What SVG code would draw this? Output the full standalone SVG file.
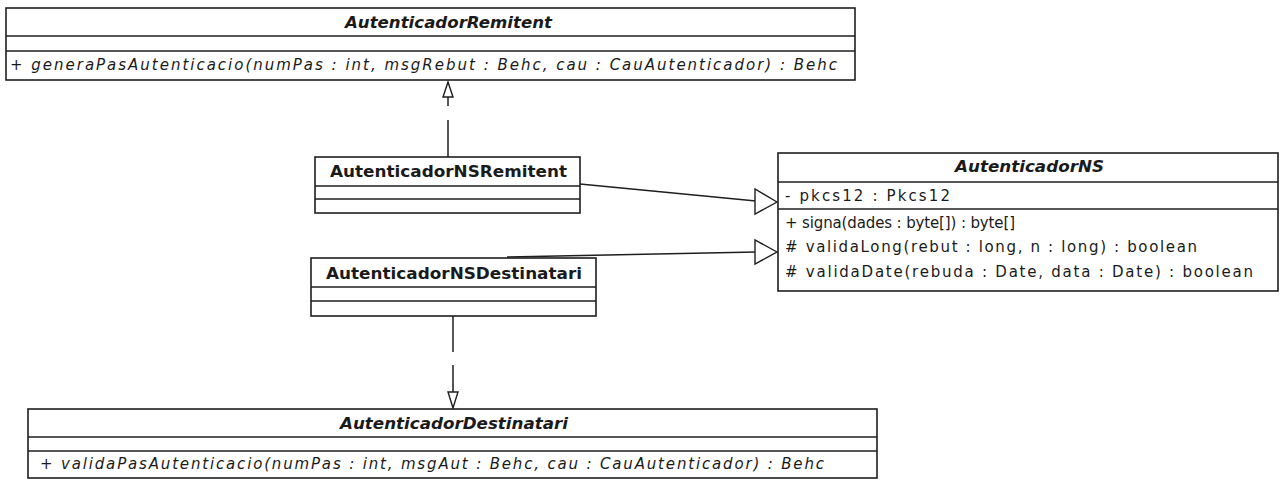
<svg xmlns="http://www.w3.org/2000/svg" width="1281" height="480" viewBox="0 0 1281 480">
  <style>
    .box { fill: #ffffff; stroke: #1e1e1e; stroke-width: 1.6; }
    .div { stroke: #1e1e1e; stroke-width: 1.6; }
    .t { font-family: "DejaVu Sans", "Liberation Sans", sans-serif; font-size: 15px; fill: #1a1a1a; }
    .abs { font-weight: bold; font-style: italic; }
    .cls { font-weight: bold; }
    .op { font-style: italic; }
    .edge { fill: none; stroke: #1e1e1e; stroke-width: 1.5; }
    .head { fill: #ffffff; stroke: #1e1e1e; stroke-width: 1.4; }
  </style>
  <rect width="1281" height="480" fill="#ffffff"/>

  <!-- abstract class: AutenticadorRemitent -->
  <g id="AutenticadorRemitent">
    <rect class="box" x="6" y="8" width="849" height="72"/>
    <line class="div" x1="6" y1="36" x2="855" y2="36"/>
    <line class="div" x1="6" y1="51" x2="855" y2="51"/>
    <text class="t abs" x="345" y="28" textLength="207" lengthAdjust="spacingAndGlyphs">AutenticadorRemitent</text>
    <text class="t op" x="10" y="70" textLength="827" lengthAdjust="spacing">+ generaPasAutenticacio(numPas : int, msgRebut : Behc, cau : CauAutenticador) : Behc</text>
  </g>

  <!-- class: AutenticadorNSRemitent -->
  <g id="AutenticadorNSRemitent">
    <rect class="box" x="315" y="157" width="265" height="56"/>
    <line class="div" x1="315" y1="186" x2="580" y2="186"/>
    <line class="div" x1="315" y1="199" x2="580" y2="199"/>
    <text class="t cls" x="330" y="177" textLength="237" lengthAdjust="spacingAndGlyphs">AutenticadorNSRemitent</text>
  </g>

  <!-- abstract class: AutenticadorNS -->
  <g id="AutenticadorNS">
    <rect class="box" x="778" y="153" width="500" height="138"/>
    <line class="div" x1="778" y1="182" x2="1278" y2="182"/>
    <line class="div" x1="778" y1="209" x2="1278" y2="209"/>
    <text class="t abs" x="955" y="172" textLength="149" lengthAdjust="spacingAndGlyphs">AutenticadorNS</text>
    <text class="t" x="785" y="201" textLength="165" lengthAdjust="spacing">- pkcs12 : Pkcs12</text>
    <text class="t" x="785" y="228" textLength="230" lengthAdjust="spacing">+ signa(dades : byte[]) : byte[]</text>
    <text class="t" x="785" y="252" textLength="412" lengthAdjust="spacing"># validaLong(rebut : long, n : long) : boolean</text>
    <text class="t" x="785" y="277" textLength="468" lengthAdjust="spacing"># validaDate(rebuda : Date, data : Date) : boolean</text>
  </g>

  <!-- class: AutenticadorNSDestinatari -->
  <g id="AutenticadorNSDestinatari">
    <rect class="box" x="311" y="258" width="285" height="58"/>
    <line class="div" x1="311" y1="287" x2="596" y2="287"/>
    <line class="div" x1="311" y1="301" x2="596" y2="301"/>
    <text class="t cls" x="326" y="279" textLength="256" lengthAdjust="spacingAndGlyphs">AutenticadorNSDestinatari</text>
  </g>

  <!-- abstract class: AutenticadorDestinatari -->
  <g id="AutenticadorDestinatari">
    <rect class="box" x="28" y="409" width="849" height="69"/>
    <line class="div" x1="28" y1="437" x2="877" y2="437"/>
    <line class="div" x1="28" y1="451" x2="877" y2="451"/>
    <text class="t abs" x="340" y="429" textLength="228" lengthAdjust="spacingAndGlyphs">AutenticadorDestinatari</text>
    <text class="t op" x="40" y="469" textLength="784" lengthAdjust="spacing">+ validaPasAutenticacio(numPas : int, msgAut : Behc, cau : CauAutenticador) : Behc</text>
  </g>

  <!-- connectors -->
  <g id="connectors">
    <!-- AutenticadorNSRemitent realizes AutenticadorRemitent -->
    <line class="edge" x1="448" y1="157" x2="448" y2="120"/>
    <line class="edge" x1="448" y1="106" x2="448" y2="97"/>
    <polygon class="head" points="448,82 443,97 453,97"/>

    <!-- AutenticadorNSRemitent extends AutenticadorNS -->
    <line class="edge" x1="580" y1="184" x2="756" y2="201"/>
    <polygon class="head" points="777,202 755,189 755,214"/>

    <!-- AutenticadorNSDestinatari extends AutenticadorNS -->
    <line class="edge" x1="507" y1="257" x2="756" y2="252"/>
    <polygon class="head" points="777,252 755,240 755,264"/>

    <!-- AutenticadorNSDestinatari realizes AutenticadorDestinatari -->
    <line class="edge" x1="453" y1="316" x2="453" y2="352"/>
    <line class="edge" x1="453" y1="365" x2="453" y2="392"/>
    <polygon class="head" points="453,408 448,392 458,392"/>
  </g>
</svg>
